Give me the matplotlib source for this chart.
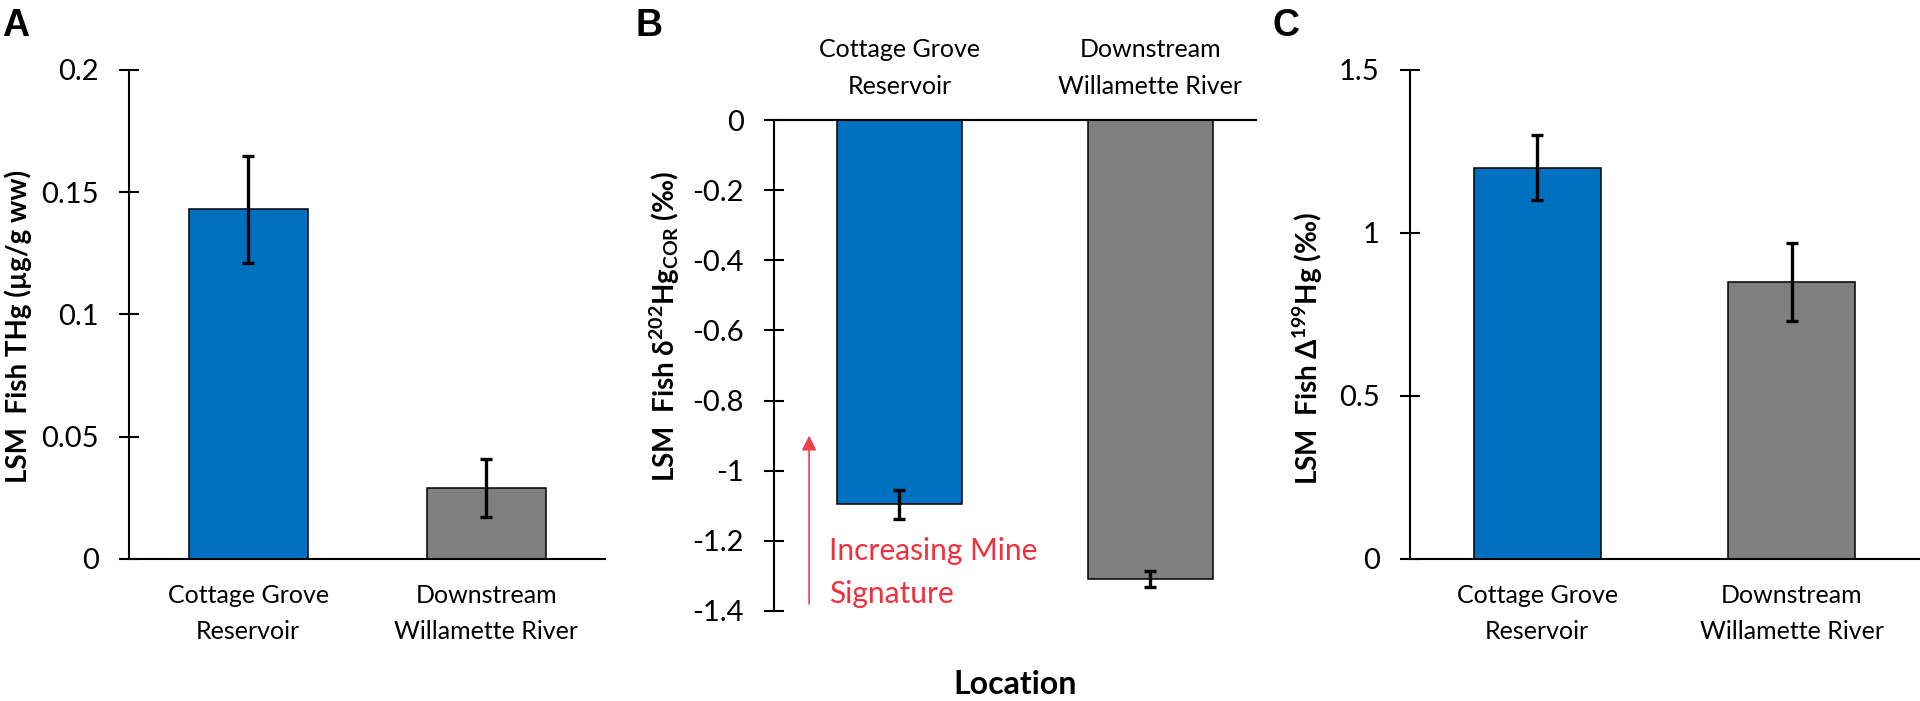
import numpy as np
import matplotlib
matplotlib.use('Agg')
import matplotlib.pyplot as plt
from matplotlib.ticker import FormatStrFormatter

plt.rcParams['font.family'] = ['Lato', 'DejaVu Sans']
plt.rcParams['axes.unicode_minus'] = False
plt.rcParams['mathtext.fontset'] = 'custom'
plt.rcParams['mathtext.rm'] = 'Lato:bold'
plt.rcParams['mathtext.bf'] = 'Lato:bold'
plt.rcParams['mathtext.it'] = 'Lato:bold'

# data
locations = ['Cottage Grove\nReservoir', 'Downstream\nWillamette River']
bar_colors = ['#0070C0', '#7F7F7F']

thg = [0.143, 0.029]
thg_err = [0.022, 0.012]

d202 = [-1.096, -1.309]
d202_err = [0.042, 0.024]

D199 = [1.20, 0.85]
D199_err = [0.10, 0.12]

ticksA = [0, 0.05, 0.1, 0.15, 0.2]
ticksB = [-1.4, -1.2, -1.0, -0.8, -0.6, -0.4, -0.2, 0.0]
ticksC = [0, 0.5, 1, 1.5]

err_kw = dict(ecolor='black', elinewidth=2.4, capsize=4.3, capthick=2.4)
tick_fs = 21
cat_fs = 18
lab_fs = 20


def style_axis(ax):
    for s in ['top', 'right']:
        ax.spines[s].set_visible(False)
    for s in ax.spines.values():
        s.set_linewidth(1.5)
    ax.tick_params(axis='y', direction='inout', length=13.7, width=1.5,
                   labelsize=tick_fs, pad=15)
    ax.yaxis.set_major_formatter(FormatStrFormatter('%g'))


fig = plt.figure(figsize=(19.2, 7.01), dpi=100)
x = np.arange(len(locations))

# ---- A
axA = fig.add_axes([0.0674, 0.2026, 0.2477, 0.6976])
axA.bar(x, thg, width=0.5, color=bar_colors, edgecolor='black', linewidth=1.1,
        yerr=thg_err, error_kw=err_kw)
style_axis(axA)
axA.set_xlim(-0.5, 1.5)
axA.set_ylim(0, 0.2)
axA.set_yticks(ticksA)
axA.set_xticks(x)
axA.set_xticklabels(locations, fontsize=cat_fs, linespacing=1.7)
axA.tick_params(axis='x', length=0, pad=18)
axA.set_ylabel('LSM  Fish THg (µg/g ww)', fontsize=lab_fs, fontweight='bold', va='center')
axA.yaxis.set_label_coords(-0.233, 0.475)

# ---- B
axB = fig.add_axes([0.4031, 0.1284, 0.2510, 0.7004])
axB.bar(x, d202, width=0.5, color=bar_colors, edgecolor='black', linewidth=1.1,
        yerr=d202_err, error_kw=err_kw)
style_axis(axB)
axB.spines['top'].set_visible(True)
axB.spines['bottom'].set_visible(False)
axB.set_xlim(-0.5, 1.42)
axB.set_ylim(-1.4, 0)
axB.set_yticks(ticksB)
axB.set_xticks(x)
axB.xaxis.tick_top()
axB.set_xticklabels(locations, fontsize=cat_fs, linespacing=1.7)
axB.tick_params(axis='x', length=0, pad=16)
axB.set_ylabel(r'LSM  Fish δ$^{202}$Hg$_{COR}$ (‰)', fontsize=lab_fs,
               fontweight='bold', va='center')
axB.yaxis.set_label_coords(-0.226, 0.58)
axB.annotate('', xy=(-0.36, -0.90), xytext=(-0.36, -1.38),
             arrowprops=dict(arrowstyle='-|>', color='#F0404E', lw=1.2,
                             mutation_scale=22, shrinkA=0, shrinkB=0))
axB.text(-0.28, -1.19, 'Increasing Mine\nSignature', color='#F0303C',
         fontsize=21.5, va='top', ha='left', linespacing=1.65)

# ---- C
axC = fig.add_axes([0.7344, 0.2026, 0.2651, 0.6976])
axC.bar(x, D199, width=0.5, color=bar_colors, edgecolor='black', linewidth=1.1,
        yerr=D199_err, error_kw=err_kw)
style_axis(axC)
axC.set_xlim(-0.5, 1.5)
axC.set_ylim(0, 1.5)
axC.set_yticks(ticksC)
axC.set_xticks(x)
axC.set_xticklabels(locations, fontsize=cat_fs, linespacing=1.7)
axC.tick_params(axis='x', length=0, pad=18)
axC.set_ylabel(r'LSM  Fish Δ$^{199}$Hg (‰)', fontsize=lab_fs, fontweight='bold',
               va='center')
axC.yaxis.set_label_coords(-0.2, 0.43)

# panel letters and shared x label
for px, letter in [(2, 'A'), (636, 'B'), (1272, 'C')]:
    fig.text(px / 1920, 1 - 36 / 701, letter, fontsize=27, fontweight='bold',
             family='Liberation Sans', va='baseline', ha='left')
fig.text(1015 / 1920, 1 - 685 / 701, 'Location', fontsize=23, fontweight='bold',
         ha='center', va='center')

fig.savefig('out.png', dpi=100)
